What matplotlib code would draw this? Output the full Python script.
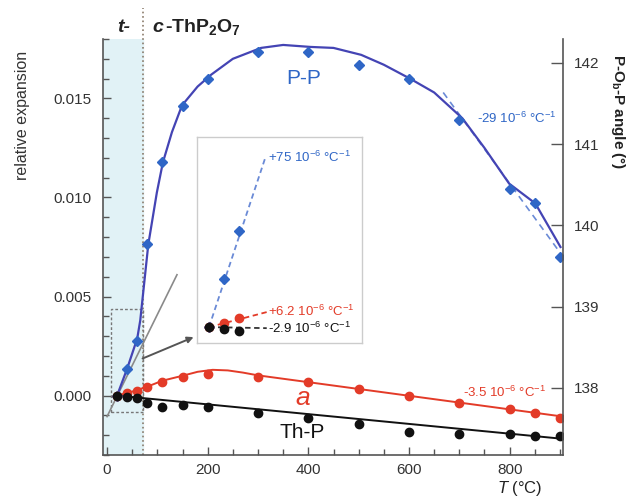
import matplotlib
matplotlib.use("Agg")
import matplotlib.pyplot as plt
from matplotlib.ticker import MultipleLocator
from matplotlib.patches import Rectangle

plt.rcParams['font.family'] = ['Liberation Sans', 'DejaVu Sans']
plt.rcParams['mathtext.fontset'] = 'custom'
plt.rcParams['mathtext.rm'] = 'Liberation Sans'
plt.rcParams['mathtext.it'] = 'Liberation Sans:italic'
plt.rcParams['mathtext.bf'] = 'Liberation Sans:bold'

# measured points
T = [20, 40, 60, 80, 110, 150, 200, 300, 400, 500, 600, 700, 800, 850, 900]
pp = [0, 0.00136, 0.00273, 0.00763, 0.01177, 0.0146, 0.01596, 0.01732, 0.01732,
      0.01667, 0.01596, 0.01389, 0.01045, 0.0097, 0.00697]
a = [0, 0.00012, 0.00025, 0.00045, 0.0007, 0.00096, 0.00111, 0.00096, 0.00071,
     0.00035, 0.0, -0.00035, -0.0007, -0.00086, -0.00111]
thp = [0, -0.00006, -0.00012, -0.00035, -0.00056, -0.0005, -0.00056, -0.00086,
       -0.00111, -0.00146, -0.00182, -0.00192, -0.00192, -0.00202, -0.00202]

# fitted curves
pp_fit_T = [20, 40, 60, 66, 82, 99, 111, 129, 149, 180, 207, 250, 306, 350, 404,
            450, 505, 550, 602, 650, 706, 750, 799, 851, 901]
pp_fit = [0, 0.00136, 0.00288, 0.00379, 0.00763, 0.01025, 0.01177, 0.0133, 0.01465,
          0.0156, 0.0162, 0.0170, 0.01755, 0.0177, 0.0176, 0.01755, 0.0172, 0.0167,
          0.0160, 0.0153, 0.0140, 0.0125, 0.0107, 0.0097, 0.0075]
a_fit_T = [20, 50, 80, 110, 150, 180, 210, 240, 270, 300, 900]
a_fit = [0, 0.0002, 0.00045, 0.00075, 0.001, 0.0012, 0.0013, 0.00127, 0.00116, 0.00102, -0.00104]
thp_fit_T = [20, 900]
thp_fit = [0, -0.00217]

# tangent lines
pp_hiT_T = [668, 900]
pp_hiT = [0.0153, 0.00722]
guide_T = [0, 139]
guide = [-0.00106, 0.0061]

# low-temperature slopes in the inset
pp_lo_T = [20, 95]
pp_lo = [0, 0.00479]
a_lo_T = [20, 97]
a_lo = [0, 0.000425]
thp_lo_T = [20, 97]
thp_lo = [0, -0.00003]

t_trans = 72

blue = '#2f66c6'
blue_line = '#4444b4'
red = '#e33b28'
black = '#111111'
grey = '#555555'

fig = plt.figure(figsize=(6.27, 4.99), dpi=100)
ax = fig.add_axes([103 / 627, 1 - 455 / 499, 460 / 627, 416 / 499])
ax.set_xlim(-8, 906)
ax.set_ylim(-0.003, 0.018)

ax.axvspan(-8, t_trans, color='#e1f2f6', zorder=0)
ax.axvline(t_trans, ymin=0, ymax=(455 - 8) / 416, color='#8a7a6a', ls=':', lw=1.2,
           clip_on=False, zorder=1)
ax.add_patch(Rectangle((8, -0.00081), t_trans - 8, 0.0052, fill=False,
                       ls=(0, (2, 1.5)), ec='#777777', lw=1, zorder=2))
ax.plot(guide_T, guide, color='#8a8a8a', lw=1.2, zorder=2)
ax.annotate('', xy=(172, 0.00295), xytext=(70.6, 0.00187),
            arrowprops=dict(arrowstyle='-|>', color=grey, lw=1.4,
                            mutation_scale=9, shrinkA=0, shrinkB=0), zorder=3)

ax.plot(pp_fit_T, pp_fit, color=blue_line, lw=1.6, zorder=4)
ax.plot(pp_hiT_T, pp_hiT, color='#6a8ad6', lw=1.2, ls=(0, (4, 3)), zorder=3)
ax.plot(a_fit_T, a_fit, color=red, lw=1.4, zorder=4)
ax.plot(thp_fit_T, thp_fit, color=black, lw=1.4, zorder=4)

ax.plot(T, pp, 'D', color=blue, ms=5, zorder=5)
ax.plot(T, a, 'o', color=red, ms=6, zorder=5)
ax.plot(T, thp, 'o', color=black, ms=6, zorder=6)

ax.text(390, 0.0160, 'P-P', color=blue, fontsize=15, ha='center', va='center')
ax.text(736, 0.0140, r'-29 10$^{-6}$ °C$^{-1}$', color=blue, fontsize=9.5, va='center')
ax.text(388, -0.0001, 'a', color=red, fontsize=19, style='italic', ha='center', va='center')
ax.text(388, -0.00187, 'Th-P', color=black, fontsize=15, ha='center', va='center')
ax.text(708, 0.00015, r'-3.5 10$^{-6}$ °C$^{-1}$', color=red, fontsize=9.5, va='center')

ax.spines['top'].set_visible(False)
ax.spines['right'].set_visible(False)
for s in ('left', 'bottom'):
    ax.spines[s].set_color(grey)
    ax.spines[s].set_linewidth(1.2)
ax.xaxis.set_major_locator(MultipleLocator(200))
ax.xaxis.set_minor_locator(MultipleLocator(50))
ax.yaxis.set_major_locator(MultipleLocator(0.005))
ax.yaxis.set_minor_locator(MultipleLocator(0.001))
ax.set_xticks([0, 200, 400, 600, 800])
ax.yaxis.set_major_formatter(plt.FormatStrFormatter('%.3f'))
ax.tick_params(which='both', direction='in', colors=grey, labelcolor='#333333',
               labelsize=11)
ax.tick_params(which='major', length=6, width=1)
ax.tick_params(which='minor', length=4, width=1)
ax.tick_params(axis='y', pad=8)
ax.tick_params(axis='x', pad=6)

ax2 = ax.twinx()
ax2.set_ylim(137.175, 142.295)
ax2.set_yticks([138, 139, 140, 141, 142])
for s in ('top', 'left', 'bottom'):
    ax2.spines[s].set_visible(False)
ax2.spines['right'].set_color(grey)
ax2.spines['right'].set_linewidth(1.2)
ax2.tick_params(direction='in', length=9, width=1, colors=grey, labelcolor='#333333',
                labelsize=11, pad=8)

# inset
ins = ax.inset_axes([(197 - 103) / 460, (455 - 343) / 416, 165 / 460, 206 / 416])
ins.set_xlim(4, 224)
ins.set_ylim(-0.00045, 0.00538)
ins.set_xticks([])
ins.set_yticks([])
for s in ins.spines.values():
    s.set_color('#cccccc')
    s.set_linewidth(1)
ins.plot(pp_lo_T, pp_lo, color='#6a8ad6', lw=1.3, ls=(0, (3, 2)))
ins.plot(a_lo_T, a_lo, color=red, lw=1.3, ls=(0, (3, 2)))
ins.plot(thp_lo_T, thp_lo, color='#333333', lw=1.3, ls=(0, (3, 2)))
ins.plot(T[:3], pp[:3], 'D', color=blue, ms=5)
ins.plot(T[:3], a[:3], 'o', color=red, ms=6)
ins.plot(T[:3], thp[:3], 'o', color=black, ms=6)
ins.text(99, 0.00479, r'+75 10$^{-6}$ °C$^{-1}$', color=blue, fontsize=9.5, va='center')
ins.text(99, 0.00045, r'+6.2 10$^{-6}$ °C$^{-1}$', color=red, fontsize=9.5, va='center')
ins.text(99, -0.00003, r'-2.9 10$^{-6}$ °C$^{-1}$', color=black, fontsize=9.5, va='center')

fig.text(23 / 627, 1 - 115 / 499, 'relative expansion', rotation=90, fontsize=11.5,
         color='#333333', ha='center', va='center')
fig.text(618 / 627, 1 - 112 / 499, r'P-O$_\mathbf{b}$-P angle (°)', rotation=270,
         fontsize=11, weight='bold', color='#222222', ha='center', va='center')
fig.text(520 / 627, 1 - 488 / 499, r'$T$ (°C)', fontsize=12, color='#222222',
         ha='center', va='center')
fig.text(117 / 627, 1 - 27 / 499, 't-', fontsize=14, weight='bold', style='italic',
         color='#222222', va='center')
fig.text(152 / 627, 1 - 27 / 499, 'c', fontsize=14, weight='bold', style='italic',
         color='#222222', va='center')
fig.text(165 / 627, 1 - 27 / 499, r'-ThP$_\mathbf{2}$O$_\mathbf{7}$', fontsize=14,
         weight='bold', color='#222222', va='center')

fig.savefig('out.png', dpi=100)
